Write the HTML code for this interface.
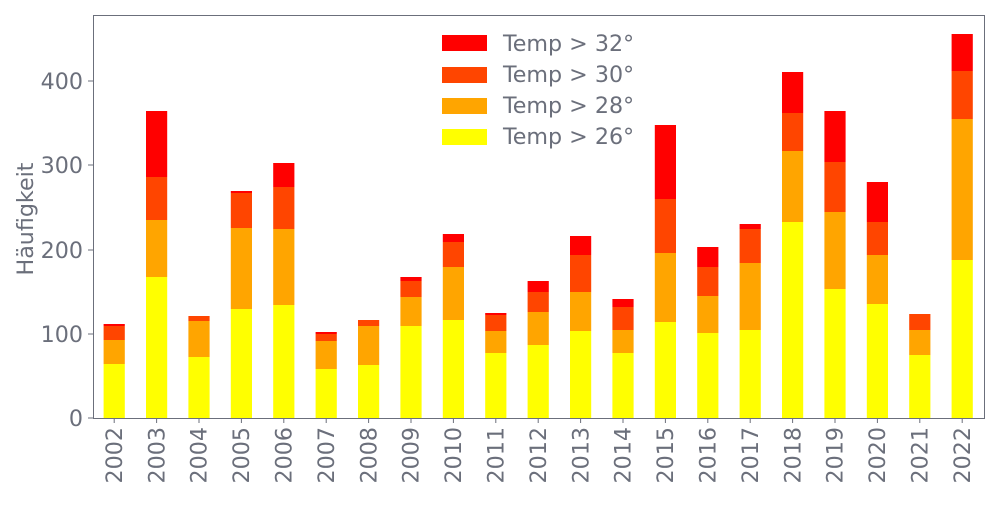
<!DOCTYPE html>
<html><head><style>body{margin:0;background:#fff}</style></head><body>
<svg width="1000" height="500" xmlns="http://www.w3.org/2000/svg" font-family="DejaVu Sans, sans-serif" fill="#6b6f7b">
<g id="bars"></g>
<rect x="93.5" y="15.5" width="891" height="403" fill="none" stroke="#6b6f7b" stroke-width="1"/>
<g font-size="22.2" text-anchor="end">
<text x="83" y="426">0</text><text x="83" y="342">100</text><text x="83" y="258">200</text><text x="83" y="173">300</text><text x="83" y="89">400</text>
</g>
<g stroke="#6b6f7b"><line x1="88" x2="93" y1="418" y2="418"/><line x1="88" x2="93" y1="334" y2="334"/><line x1="88" x2="93" y1="250" y2="250"/><line x1="88" x2="93" y1="165" y2="165"/><line x1="88" x2="93" y1="81" y2="81"/></g>
<text transform="translate(33,219) rotate(-90)" font-size="22.2" text-anchor="middle">Häufigkeit</text>
<g id="xl" font-size="22.2"></g>
<g font-size="22.2">
<rect x="442" y="35" width="45" height="16" fill="#ff0000"/><text x="503" y="51">Temp &gt; 32°</text>
<rect x="442" y="67" width="45" height="16" fill="#ff4500"/><text x="503" y="82">Temp &gt; 30°</text>
<rect x="442" y="98" width="45" height="16" fill="#ffa500"/><text x="503" y="113">Temp &gt; 28°</text>
<rect x="442" y="129" width="45" height="16" fill="#ffff00"/><text x="503" y="144">Temp &gt; 26°</text>
</g>
<script>
var d=[[364,340,326,324],[277,220,177,111],[357,321,316,316],[309,228,193,191],[305,229,187,163],[369,341,334,332],[365,326,320,320],[326,297,281,277],[320,267,242,234],[353,331,315,313],[345,312,292,281],[331,292,255,236],[353,330,307,299],[322,253,199,125],[333,296,267,247],[330,263,229,224],[222,151,113,72],[289,212,162,111],[304,255,222,182],[355,330,314,314],[260,119,71,34]];
var c=["#ffff00","#ffa500","#ff4500","#ff0000"],ns="http://www.w3.org/2000/svg",b=document.getElementById("bars"),xl=document.getElementById("xl");
d.forEach(function(t,i){var cx=114.2+i*42.4,prev=418;
for(var k=0;k<4;k++){var r=document.createElementNS(ns,"rect");r.setAttribute("x",cx-10.6);r.setAttribute("width",21.2);r.setAttribute("y",t[k]);r.setAttribute("height",Math.max(0,prev-t[k]));r.setAttribute("fill",c[k]);b.appendChild(r);prev=t[k];}
var l=document.createElementNS(ns,"line");l.setAttribute("x1",cx);l.setAttribute("x2",cx);l.setAttribute("y1",418);l.setAttribute("y2",423);l.setAttribute("stroke","#6b6f7b");xl.appendChild(l);
var tx=document.createElementNS(ns,"text");tx.setAttribute("transform","translate("+(cx+7.7)+",427) rotate(-90)");tx.setAttribute("text-anchor","end");tx.textContent=2002+i;xl.appendChild(tx);});
</script>
</svg>
</body></html>
